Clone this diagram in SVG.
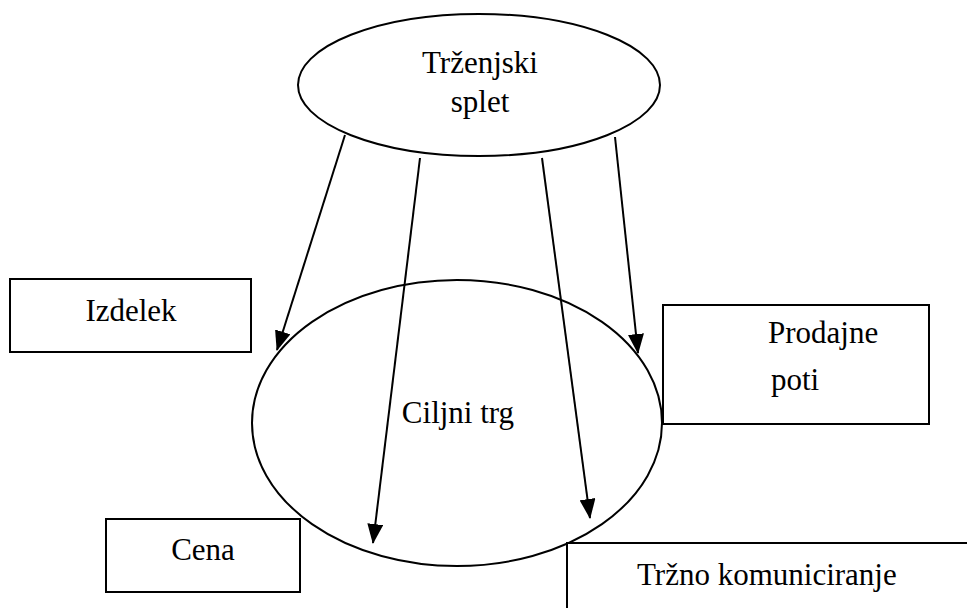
<svg xmlns="http://www.w3.org/2000/svg" width="967" height="608" viewBox="0 0 967 608">
<style>
.s{fill:#fff;stroke:#000;stroke-width:2}
.t{font-family:"Liberation Serif","Times New Roman",serif;font-size:31px;fill:#000}
.c{text-anchor:middle}
.e{stroke:#000;stroke-width:2;fill:none;marker-end:url(#ah)}
</style>
<defs>
<marker id="ah" markerWidth="20" markerHeight="16" refX="19" refY="8" orient="auto" markerUnits="userSpaceOnUse">
<path d="M0,0 L20,8 L0,16 Z" fill="#000"/>
</marker>
</defs>
<rect width="967" height="608" fill="#fff"/>
<g id="izdelek"><rect class="s" x="10" y="279" width="241" height="73"/><text class="t c" x="131" y="321">Izdelek</text></g>
<g id="prodajne"><rect class="s" x="663" y="305" width="266" height="119"/><text class="t" x="768" y="343">Prodajne</text><text class="t" x="771" y="390">poti</text></g>
<g id="cena"><rect class="s" x="106" y="519" width="194" height="73"/><text class="t c" x="203" y="560">Cena</text></g>
<g id="ciljni"><ellipse cx="457" cy="423" rx="205" ry="143" fill="none" stroke="#000" stroke-width="2"/><text class="t c" x="458" y="423">Ciljni trg</text></g>
<g id="trzno"><rect class="s" x="567" y="543" width="420" height="80"/><text class="t" x="637" y="585">Tržno komuniciranje</text></g>
<g id="trzenjski"><ellipse class="s" cx="479" cy="85" rx="181" ry="71"/><text class="t c" x="480" y="73">Trženjski</text><text class="t c" x="480" y="112">splet</text></g>
<g id="connectors">
<line class="e" x1="345" y1="135" x2="277" y2="350"/>
<line class="e" x1="420" y1="158" x2="373" y2="543"/>
<line class="e" x1="542" y1="158" x2="590" y2="518"/>
<line class="e" x1="615" y1="137" x2="638" y2="353"/>
</g>
</svg>
